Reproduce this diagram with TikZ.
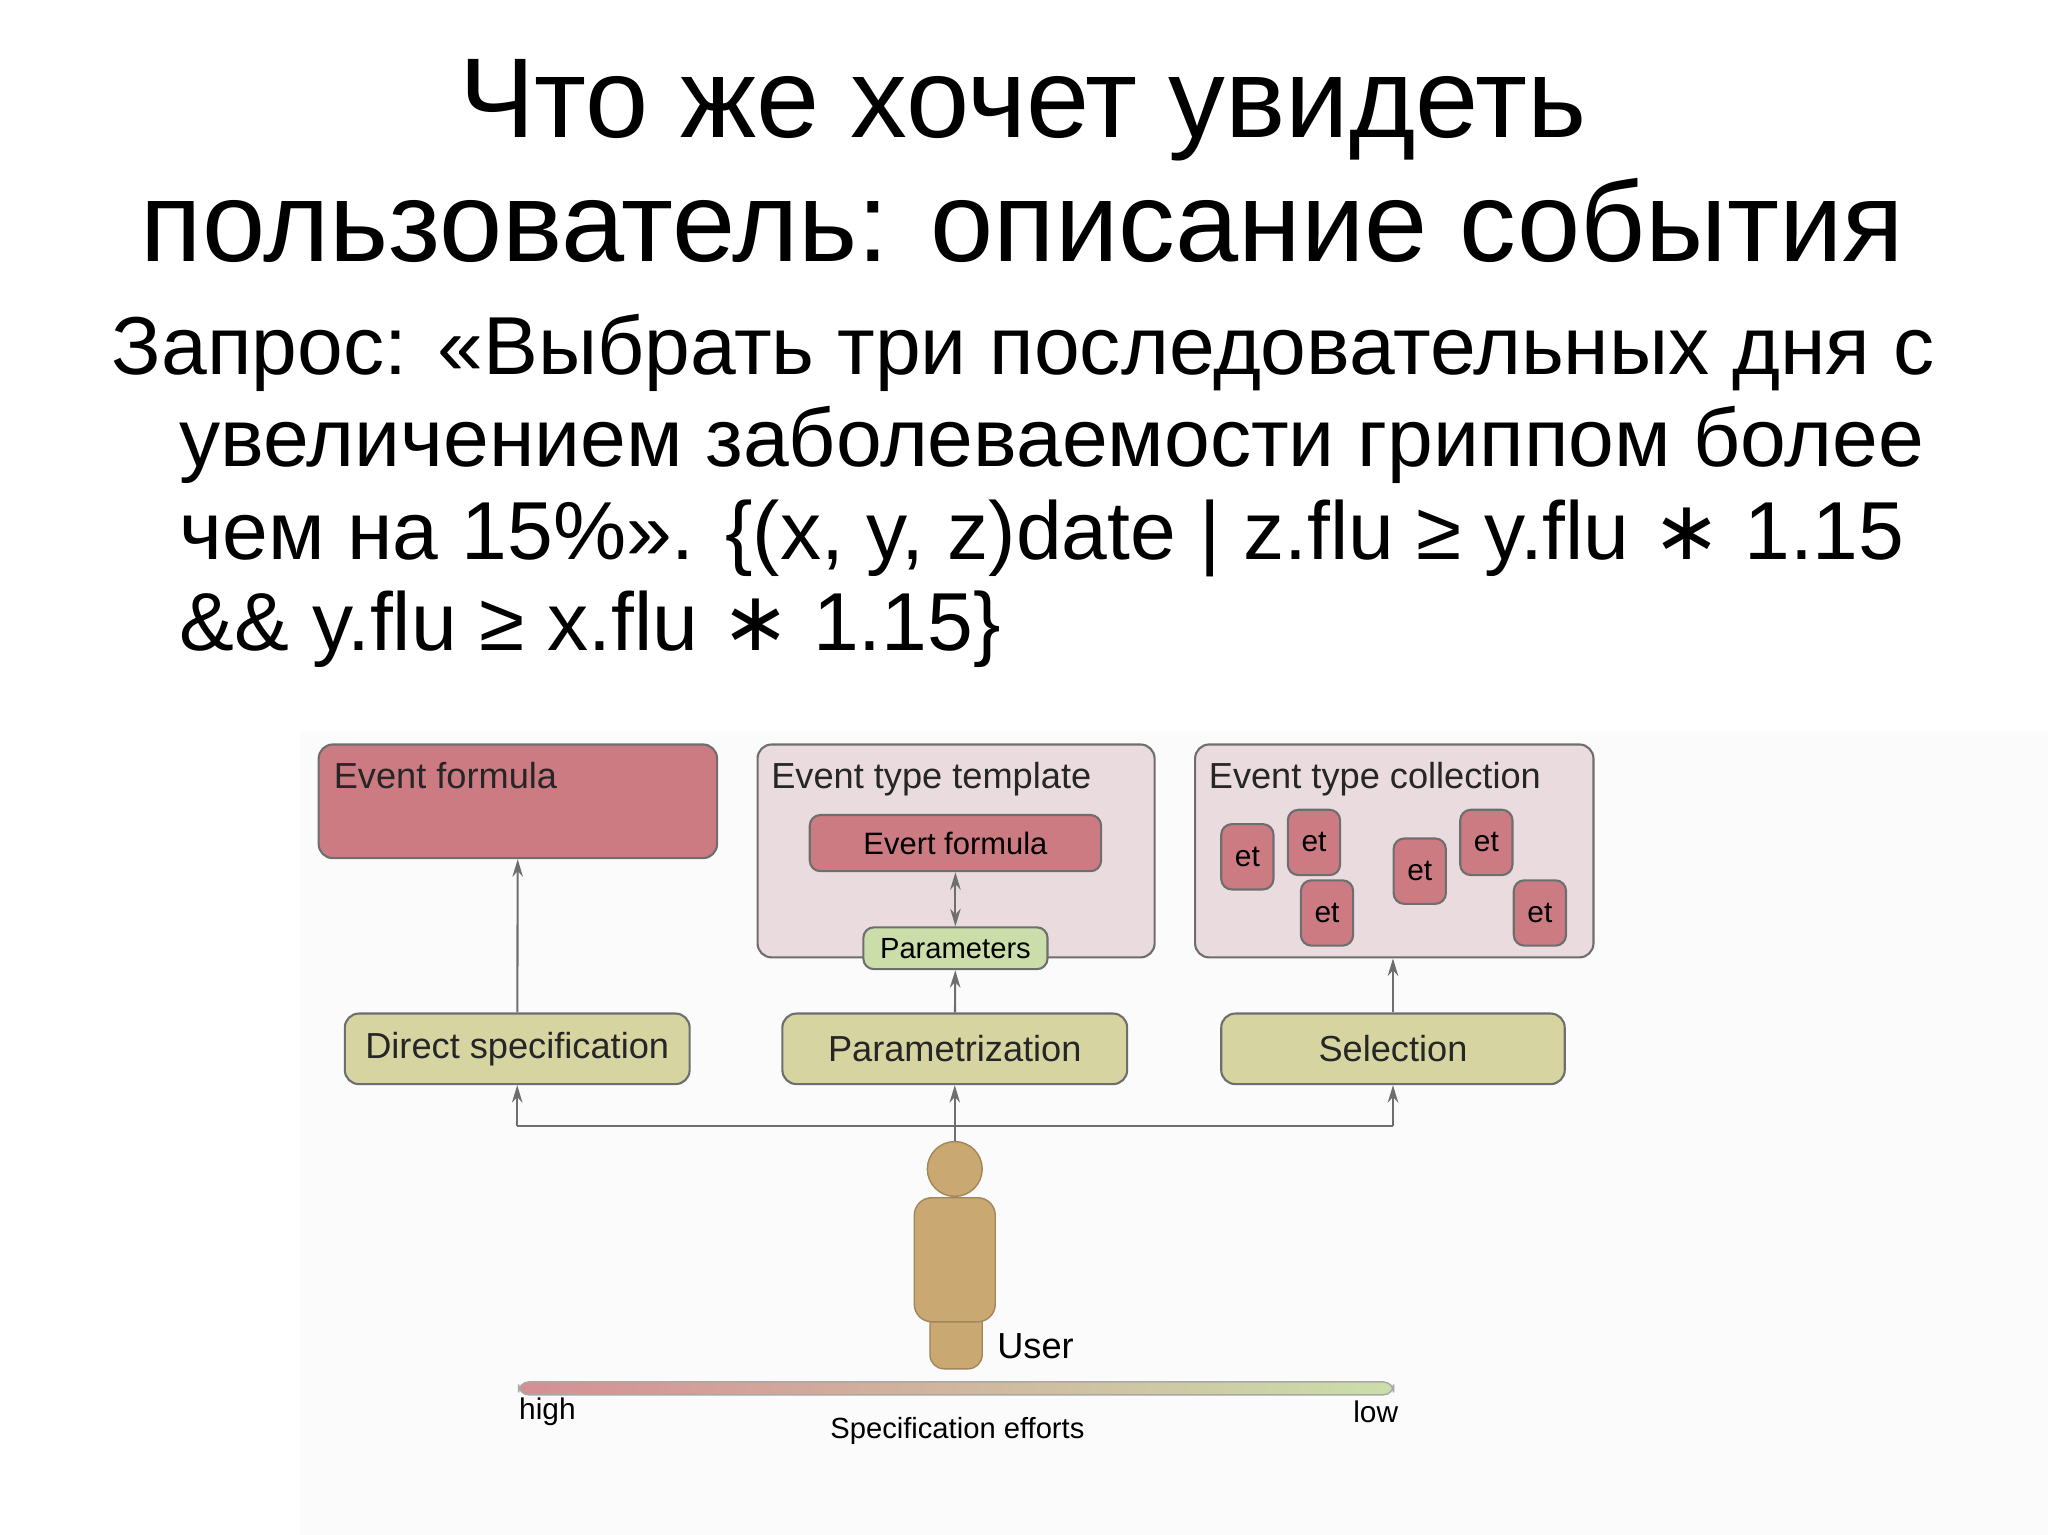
\documentclass[tikz,border=0pt]{standalone}
\usepackage{fontspec}
\setmainfont{Liberation Sans}
\newfontfamily\djv{DejaVu Sans}
\newcommand{\astx}{{\djv ∗}}
\usetikzlibrary{arrows.meta}
\definecolor{rb}{HTML}{CD7B82}
\definecolor{pk}{HTML}{EADCDE}
\definecolor{ol}{HTML}{D6D5A2}
\definecolor{gr}{HTML}{CBDEAA}
\definecolor{us}{HTML}{C9A872}
\definecolor{ln}{HTML}{6E6E6E}
\tikzset{
 bx/.style={draw=ln, line width=0.6pt, rounded corners=4pt},
 lbl/.style={anchor=north west, inner sep=0pt, font=\fontsize{10.3}{12}\selectfont, text=black!85},
 mbox/.style={bx, fill=ol, font=\fontsize{10.3}{12}\selectfont, text=black!85},
 et/.style={bx, fill=rb, minimum width=40*0.01306cm, minimum height=50*0.01306cm, inner sep=0pt, rounded corners=3pt, font=\fontsize{8.5}{10}\selectfont},
 arr/.style={draw=ln, line width=0.6pt, -{Stealth[length=5pt,width=3pt]}},
}
\begin{document}
\begin{tikzpicture}[x=0.01306cm, y=-0.01306cm]
\useasboundingbox (0,0) rectangle (1568,1175);
\fill[white] (0,0) rectangle (1568,1175);
\fill[black!1.5] (230,560) rectangle (1568,1175);
% title
\node[anchor=base, inner sep=0pt, font=\fontsize{32.3}{36}\selectfont] (t1) at (783,105) {Что же хочет увидеть};
\node[anchor=base, inner sep=0pt, font=\fontsize{32.3}{36}\selectfont] (t2) at (783,200) {пользователь: описание события};
\begin{scope}[every node/.style={anchor=base west, inner sep=0pt, font=\fontsize{23.4}{26}\selectfont}]
\node (b1) at (85,287) {Запрос: «Выбрать три последовательных дня с};
\node (b2) at (137,357) {увеличением заболеваемости гриппом более};
\node (b3) at (137,428) {чем на 15\%». \{(x, y, z)date | z.flu ≥ y.flu \astx{} 1.15};
\node (b4) at (137,498) {\&\& y.flu ≥ x.flu \astx{} 1.15\}};
\end{scope}
% top boxes
\node[bx, fill=rb, minimum width=305*0.01306cm, minimum height=87*0.01306cm, inner sep=0pt] (ef) at (396.5,613.5) {};
\node[lbl] at (255,583) {Event formula};
\node[bx, fill=pk, minimum width=304*0.01306cm, minimum height=163*0.01306cm, inner sep=0pt] (tt) at (732,651.5) {};
\node[lbl] at (590,583) {Event type template};
\node[bx, fill=pk, minimum width=305*0.01306cm, minimum height=163*0.01306cm, inner sep=0pt] (tc) at (1067.5,651.5) {};
\node[lbl] at (925,583) {Event type collection};
\node[bx, fill=rb, minimum width=223*0.01306cm, minimum height=43*0.01306cm, inner sep=0pt, rounded corners=3pt, font=\fontsize{8.8}{10}\selectfont] (if) at (731.5,645.5) {Evert formula};
\node[bx, fill=gr, minimum width=141*0.01306cm, minimum height=32*0.01306cm, inner sep=0pt, rounded corners=3pt, font=\fontsize{8.3}{10}\selectfont] (pa) at (731.5,726) {Parameters};
\draw[draw=ln, line width=0.6pt, {Stealth[length=5pt,width=3pt]}-{Stealth[length=5pt,width=3pt]}] (if) -- (pa);
\node[et] (e1) at (955,656) {et};
\node[et] (e2) at (1006,645) {et};
\node[et] (e3) at (1016,699) {et};
\node[et] (e4) at (1087,667) {et};
\node[et] (e5) at (1138,645) {et};
\node[et] (e6) at (1179,699) {et};
% middle boxes
\node[mbox, minimum width=264*0.01306cm, minimum height=54*0.01306cm, inner sep=0pt] (ds) at (396,803) {Direct specification};
\node[mbox, minimum width=264*0.01306cm, minimum height=54*0.01306cm, inner sep=0pt] (pz) at (731,803) {Parametrization};
\node[mbox, minimum width=263*0.01306cm, minimum height=54*0.01306cm, inner sep=0pt] (se) at (1066.5,803) {Selection};
\draw[arr] (ds) -- (ef);
\draw[arr] (pz) -- (pa);
\draw[arr] (se.north) -- (tc.south -| se.north);
% user
\coordinate (j) at (731,862);
\draw[ln, line width=0.6pt] (ds.south |- j) -- (se.south |- j);
\draw[arr] (ds.south |- j) -- (ds.south);
\draw[arr] (se.south |- j) -- (se.south);
\draw[arr] (731,875) -- (pz.south);
\draw[us!80!black, line width=0.4pt, fill=us, rounded corners=4pt] (712,1000) rectangle (752,1048);
\draw[us!80!black, line width=0.4pt, fill=us, rounded corners=5pt] (700,917) rectangle (762,1012);
\node[circle, fill=us, draw=us!80!black, line width=0.4pt, minimum width=42*0.01306cm, minimum height=42*0.01306cm, inner sep=0pt] (hd) at (731,895) {};
\node[anchor=base west, inner sep=0pt, font=\fontsize{10.3}{12}\selectfont] (ul) at (763,1040) {User};
% bar
\shade[left color=rb!85, right color=gr, rounded corners=3pt, draw=ln!60, line width=0.4pt] (397,1058) rectangle (1067,1068);
\node[anchor=base west, inner sep=0pt, font=\fontsize{8.5}{10}\selectfont] (hi) at (397,1087) {high};
\node[anchor=base east, inner sep=0pt, font=\fontsize{8.5}{10}\selectfont] (lo) at (1071,1089) {low};
\node[anchor=base, inner sep=0pt, font=\fontsize{8.3}{10}\selectfont] (sp) at (733,1101) {Specification efforts};
\end{tikzpicture}
\end{document}
